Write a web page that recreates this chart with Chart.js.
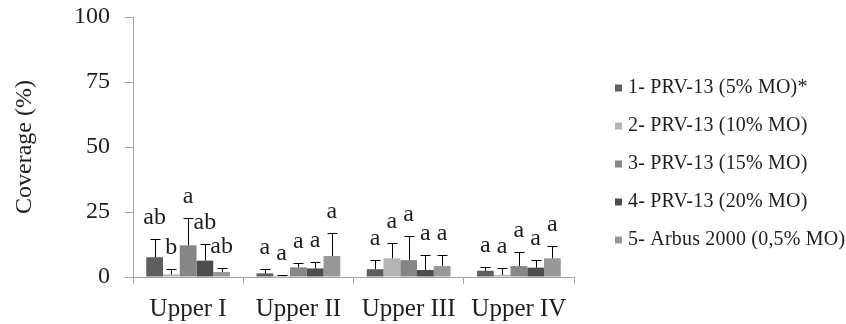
<!DOCTYPE html>
<html>
<head>
<meta charset="utf-8">
<script src="https://cdn.jsdelivr.net/npm/chart.js@4/dist/chart.umd.min.js"></script>
<style>
  html, body { margin: 0; padding: 0; background: #fff; }
  #wrap { width: 846px; height: 324px; }
</style>
</head>
<body>
<div id="wrap"><canvas id="c" width="846" height="324"></canvas></div>
<script>
// Sampling zones
const categories = ['Upper I', 'Upper II', 'Upper III', 'Upper IV'];

// Treatment names
const seriesNames = [
  '1- PRV-13 (5% MO)*',
  '2- PRV-13 (10% MO)',
  '3- PRV-13 (15% MO)',
  '4- PRV-13 (20% MO)',
  '5- Arbus 2000 (0,5% MO)'
];

// Mean coverage (%) per treatment
const prv5  = [7.6, 1.4, 3.0, 2.4];
const prv10 = [1.0, 0.5, 7.2, 0.8];
const prv15 = [12.2, 3.7, 6.5, 4.2];
const prv20 = [6.3, 3.3, 2.7, 3.6];
const arbus = [1.9, 8.1, 4.2, 7.2];

// Standard deviations (upper error bars)
const sd5  = [6.9, 1.6, 3.5, 1.3];
const sd10 = [2.0, 0.4, 6.0, 2.5];
const sd15 = [10.6, 1.6, 9.4, 5.5];
const sd20 = [6.3, 2.5, 5.8, 2.9];
const sdAr = [1.7, 8.9, 4.3, 4.8];

// Significance letters
const let5  = ['ab', 'a', 'a', 'a'];
const let10 = ['b', 'a', 'a', 'a'];
const let15 = ['a', 'a', 'a', 'a'];
const let20 = ['ab', 'a', 'a', 'a'];
const letAr = ['ab', 'a', 'a', 'a'];

// Y axis ticks
const yTicks = [0, 25, 50, 75, 100];

const colors = ['#5e5e5e', '#b5b5b5', '#868686', '#4d4d4d', '#989898'];
const serif = '"Liberation Serif", "Times New Roman", serif';
const axisGray = '#a6a6a6';
const textColor = '#1e1e1e';

const values = [prv5, prv10, prv15, prv20, arbus];
const errors = [sd5, sd10, sd15, sd20, sdAr];
const letters = [let5, let10, let15, let20, letAr];

const datasets = values.map((v, i) => ({
  label: seriesNames[i],
  data: v,
  backgroundColor: colors[i],
  borderWidth: 0,
  errors: errors[i],
  letters: letters[i],
  categoryPercentage: 0.76,
  barPercentage: 1.0
}));

// Upper error bars with caps and the letter above each
const errorBarPlugin = {
  id: 'errorBars',
  afterDatasetsDraw(chart) {
    const ctx = chart.ctx;
    const yScale = chart.scales.y;
    ctx.save();
    chart.data.datasets.forEach((ds, di) => {
      const meta = chart.getDatasetMeta(di);
      meta.data.forEach((bar, i) => {
        const v = ds.data[i];
        const top = v + ds.errors[i];
        const yv = yScale.getPixelForValue(v);
        const yt = Math.round(yScale.getPixelForValue(top)) + 0.5;
        const x = Math.round(bar.x) + 0.5;
        ctx.strokeStyle = '#000';
        ctx.lineWidth = 1;
        ctx.beginPath();
        ctx.moveTo(x, yv);
        ctx.lineTo(x, yt);
        ctx.moveTo(x - 5, yt);
        ctx.lineTo(x + 5, yt);
        ctx.stroke();
        ctx.fillStyle = textColor;
        ctx.font = '24px ' + serif;
        ctx.textAlign = 'center';
        ctx.textBaseline = 'alphabetic';
        ctx.fillText(ds.letters[i], bar.x, yt - 16);
      });
    });
    ctx.restore();
  }
};

// Legend column on the right
const sideLegendPlugin = {
  id: 'sideLegend',
  afterDraw(chart) {
    const ctx = chart.ctx;
    ctx.save();
    ctx.font = '20px ' + serif;
    ctx.textBaseline = 'middle';
    ctx.textAlign = 'left';
    if ('letterSpacing' in ctx) ctx.letterSpacing = '0.2px';
    chart.data.datasets.forEach((ds, i) => {
      const y = 88 + i * 38;
      ctx.fillStyle = ds.backgroundColor;
      ctx.fillRect(615, y - 3.5, 7, 7);
      ctx.fillStyle = textColor;
      ctx.fillText(ds.label, 628, y);
    });
    ctx.restore();
  }
};

new Chart(document.getElementById('c'), {
  type: 'bar',
  data: { labels: categories, datasets },
  options: {
    responsive: false,
    animation: false,
    devicePixelRatio: 1,
    layout: { padding: { top: 17, right: 272, bottom: 0, left: 0 } },
    plugins: {
      legend: { display: false },
      tooltip: { enabled: false }
    },
    scales: {
      x: {
        offset: true,
        grid: {
          offset: true,
          drawOnChartArea: false,
          drawTicks: true,
          tickLength: 7,
          color: axisGray,
          lineWidth: 1
        },
        border: { color: axisGray, width: 1 },
        ticks: { color: textColor, font: { family: serif, size: 25 }, padding: 10, maxRotation: 0 },
        afterFit(scale) {
          scale.height = 47;
          scale.paddingLeft = 0;
          scale.paddingRight = 0;
        }
      },
      y: {
        min: 0,
        max: 100,
        afterBuildTicks(scale) { scale.ticks = yTicks.map(v => ({ value: v })); },
        grid: {
          drawOnChartArea: false,
          drawTicks: true,
          tickLength: 8,
          color: axisGray,
          lineWidth: 1
        },
        border: { color: axisGray, width: 1 },
        ticks: { color: textColor, font: { family: serif, size: 24 }, padding: 15 },
        title: {
          display: true,
          text: 'Coverage (%)',
          color: textColor,
          font: { family: serif, size: 24 },
          padding: { top: 10, bottom: 0 }
        },
        afterFit(scale) {
          scale.width = 133;
          scale.paddingTop = 0;
          scale.paddingBottom = 0;
        }
      }
    }
  },
  plugins: [errorBarPlugin, sideLegendPlugin]
});
</script>
</body>
</html>
